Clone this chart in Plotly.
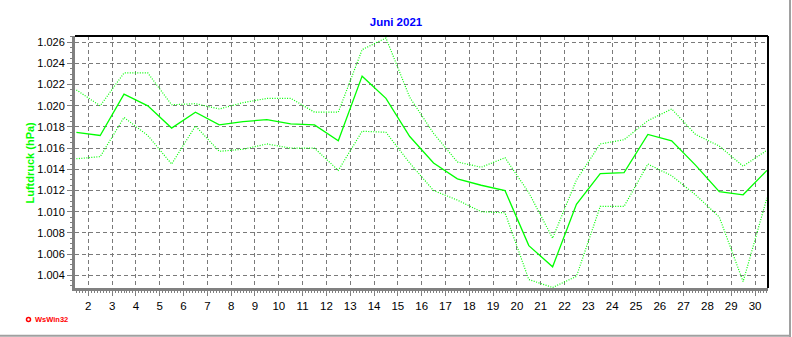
import plotly.graph_objects as go

# ---- data ----
days = list(range(1, 31))
mean_p = [1.0175, 1.0172, 1.0211, 1.0200, 1.0179, 1.0194, 1.0182, 1.0185, 1.0187, 1.0183,
          1.0182, 1.0167, 1.0228, 1.0207, 1.0171, 1.0146, 1.0131, 1.0125, 1.0120, 1.0068,
          1.0048, 1.0107, 1.0136, 1.0137, 1.0173, 1.0167, 1.0144, 1.0119, 1.0116, 1.0139]
max_p = [1.0215, 1.0200, 1.0231, 1.0231, 1.0201, 1.0202, 1.0197, 1.0203, 1.0207, 1.0207,
         1.0194, 1.0194, 1.0253, 1.0264, 1.0208, 1.0174, 1.0147, 1.0142, 1.0151, 1.0118,
         1.0075, 1.0130, 1.0164, 1.0168, 1.0186, 1.0197, 1.0173, 1.0162, 1.0143, 1.0158]
min_p = [1.0150, 1.0152, 1.0189, 1.0172, 1.0145, 1.0181, 1.0157, 1.0159, 1.0164, 1.0160,
         1.0160, 1.0139, 1.0176, 1.0175, 1.0146, 1.0120, 1.0111, 1.0100, 1.0099, 1.0036,
         1.00285, 1.0039, 1.0105, 1.0105, 1.0145, 1.0134, 1.0116, 1.0095, 1.0034, 1.0113]
x_ticks = list(range(2, 31))
y_ticks = [1.004, 1.006, 1.008, 1.010, 1.012, 1.014, 1.016, 1.018, 1.020, 1.022, 1.024, 1.026]

title_text = "Juni 2021"
y_title = "Luftdruck (hPa)"
credit = "WsWin32"

W, H = 792, 337
L, R, T, B = 75, 24, 36, 49
pw, ph = W - L - R, H - T - B

def px(xp):
    return (xp - L) / pw

def py(yp):
    return (T + ph - yp) / ph

xs = [d + 0.5 for d in days]
GREEN = "#00FF00"
FONT = "Liberation Sans, Arial, sans-serif"

fig = go.Figure()
fig.add_trace(go.Scatter(x=xs, y=max_p, mode="lines",
                         line=dict(color=GREEN, width=1.2, dash="1px,1.5px"), hoverinfo="skip"))
fig.add_trace(go.Scatter(x=xs, y=min_p, mode="lines",
                         line=dict(color=GREEN, width=1.2, dash="1px,1.5px"), hoverinfo="skip"))
fig.add_trace(go.Scatter(x=xs, y=mean_p, mode="lines",
                         line=dict(color=GREEN, width=1.3), hoverinfo="skip"))

grid = dict(showgrid=True, gridcolor="#7a7a7a", gridwidth=1, griddash="4px,3px")

fig.update_layout(
    width=W, height=H,
    margin=dict(l=L, r=R, t=T, b=B, pad=0),
    paper_bgcolor="white", plot_bgcolor="white",
    showlegend=False,
    font=dict(family=FONT, size=11, color="black"),
    title=dict(text="<b>" + title_text + "</b>", x=0.5, xref="container", xanchor="center",
               y=1 - 21.5 / H, yref="container", yanchor="middle",
               font=dict(family=FONT, size=11.5, color="#0000FF")),
    xaxis=dict(range=[1.442, 30.545], tickmode="array", tickvals=x_ticks,
               ticktext=[str(v) for v in x_ticks],
               ticks="outside", ticklen=5, tickcolor="#808080", tickwidth=1,
               showline=True, linecolor="#808080", linewidth=3, zeroline=False,
               minor=dict(dtick=0.125, tick0=0, ticks="outside", ticklen=2,
                          tickcolor="#808080", showgrid=False),
               tickfont=dict(family=FONT, size=11.5, color="black"), **grid),
    yaxis=dict(range=[1.0028, 1.02659], tickmode="array", tickvals=y_ticks,
               ticktext=[f"{v:.3f}" for v in y_ticks],
               ticks="outside", ticklen=5, tickcolor="#808080", tickwidth=1,
               showline=True, linecolor="#808080", linewidth=3, zeroline=False,
               minor=dict(dtick=0.0005, tick0=1.0, ticks="outside", ticklen=2,
                          tickcolor="#808080", showgrid=False),
               tickfont=dict(family=FONT, size=11, color="black"), **grid),
)

# black top and right frame lines
fig.add_shape(type="line", xref="paper", yref="paper", x0=0, x1=1, y0=1, y1=1,
              line=dict(color="black", width=2))
fig.add_shape(type="line", xref="paper", yref="paper", x0=1, x1=1, y0=0, y1=1,
              line=dict(color="black", width=2))
# outer panel border (right and bottom)
fig.add_shape(type="line", xref="paper", yref="paper", x0=px(790), x1=px(790), y0=py(0), y1=py(337),
              line=dict(color="#A0A0A0", width=2))
fig.add_shape(type="line", xref="paper", yref="paper", x0=px(0), x1=px(791), y0=py(335.8), y1=py(335.8),
              line=dict(color="#A0A0A0", width=2))
# credit icon
fig.add_shape(type="circle", xref="paper", yref="paper", x0=px(26.5), x1=px(30.5),
              y0=py(321.5), y1=py(317.5), line=dict(color="red", width=1.5))

fig.add_annotation(text="<b>" + y_title + "</b>", textangle=-90, xref="paper", yref="paper",
                   x=px(29.5), y=0.5, xanchor="center", yanchor="middle", showarrow=False,
                   font=dict(family=FONT, size=11, color=GREEN))
fig.add_annotation(text="<b>" + credit + "</b>", xref="paper", yref="paper",
                   x=px(32.5), y=py(319.5), xanchor="left", yanchor="middle", showarrow=False,
                   font=dict(family=FONT, size=7.5, color="red"))

fig.write_html("out.html")
